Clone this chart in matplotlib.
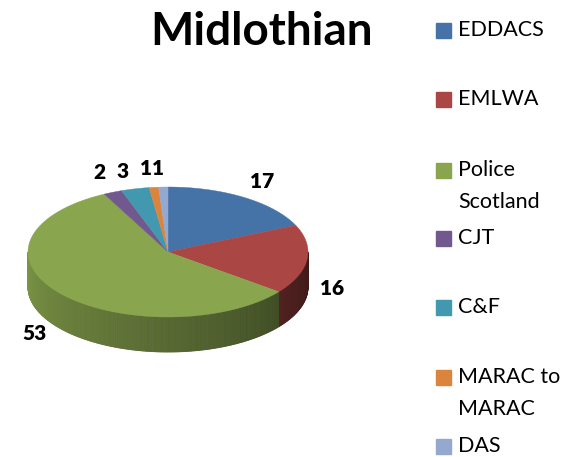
import matplotlib.pyplot as plt
import numpy as np
from matplotlib.collections import PolyCollection
from matplotlib.colors import to_rgb
from matplotlib.patches import Rectangle

labels = ["EDDACS", "EMLWA", "Police\nScotland", "CJT", "C&F", "MARAC to\nMARAC", "DAS"]
values = [17, 16, 53, 2, 3, 1, 1]
colors = ["#4572A7", "#AA4643", "#89A54E", "#71588F", "#4198AF", "#DB843D", "#93A9CF"]

plt.rcParams['font.family'] = ['Lato', 'DejaVu Sans']

fig = plt.figure(figsize=(5.84, 4.57), dpi=100)
ax = fig.add_axes([0, 0, 1, 1])
ax.set_xlim(0, 584)
ax.set_ylim(457, 0)
ax.axis('off')

# pie geometry in pixels
cx, cy = 168, 252
rx, ry = 140, 65
depth = 35


def top(t):
    return cx + rx * np.sin(t), cy - ry * np.cos(t)


vals = np.array(values, dtype=float)
edges = np.concatenate([[0], np.cumsum(vals)]) / vals.sum() * 2 * np.pi

# side wall, shaded darker towards the right
quads, qcols = [], []
for i in range(len(vals)):
    a, b = max(edges[i], np.pi / 2), min(edges[i + 1], 3 * np.pi / 2)
    if b <= a:
        continue
    ts = np.linspace(a, b, max(2, int((b - a) / 0.01)))
    base = np.array(to_rgb(colors[i]))
    for t0, t1 in zip(ts[:-1], ts[1:]):
        x0, y0 = top(t0)
        x1, y1 = top(t1)
        quads.append([(x0, y0), (x1, y1), (x1, y1 + depth), (x0, y0 + depth)])
        f = 0.36 + 0.54 * (t0 - np.pi / 2) / np.pi
        qcols.append(base * f)
ax.add_collection(PolyCollection(quads, facecolors=qcols, edgecolors=qcols, linewidths=0.6))

# top face
for i in range(len(vals)):
    ts = np.linspace(edges[i], edges[i + 1], 100)
    xs, ys = top(ts)
    pts = np.column_stack([np.r_[cx, xs], np.r_[cy, ys]])
    ax.fill(pts[:, 0], pts[:, 1], color=colors[i], lw=0.3, ec=colors[i])

# value labels
k = 1.24
nudge_x = [0, -8, 0, 0, -5, -4, -4]
nudge_y = [-3, 0, 3, -5, -2, -3, -3]
for i, v in enumerate(values):
    m = (edges[i] + edges[i + 1]) / 2
    lx = cx + k * rx * np.sin(m) + nudge_x[i]
    ly = cy - k * ry * np.cos(m) + nudge_y[i]
    if np.pi / 2 < m < 3 * np.pi / 2:
        ly += depth - 8
    ax.text(lx, ly, str(v), fontsize=15, fontweight='heavy', ha='center', va='center')

ax.text(262, 32, "Midlothian", fontsize=33, fontweight='bold', ha='center', va='center')

# legend
leg_y = [30, 99, 186, 238, 307, 393, 446]
for lab, col, y in zip(labels, colors, leg_y):
    nl = lab.count("\n")
    ax.add_patch(Rectangle((436, y - 7.5 - nl * 15.5), 15, 15, color=col))
    ax.text(458, y, lab, fontsize=15.5, ha='left', va='center', linespacing=1.75)

fig.savefig("out.png", dpi=100)
